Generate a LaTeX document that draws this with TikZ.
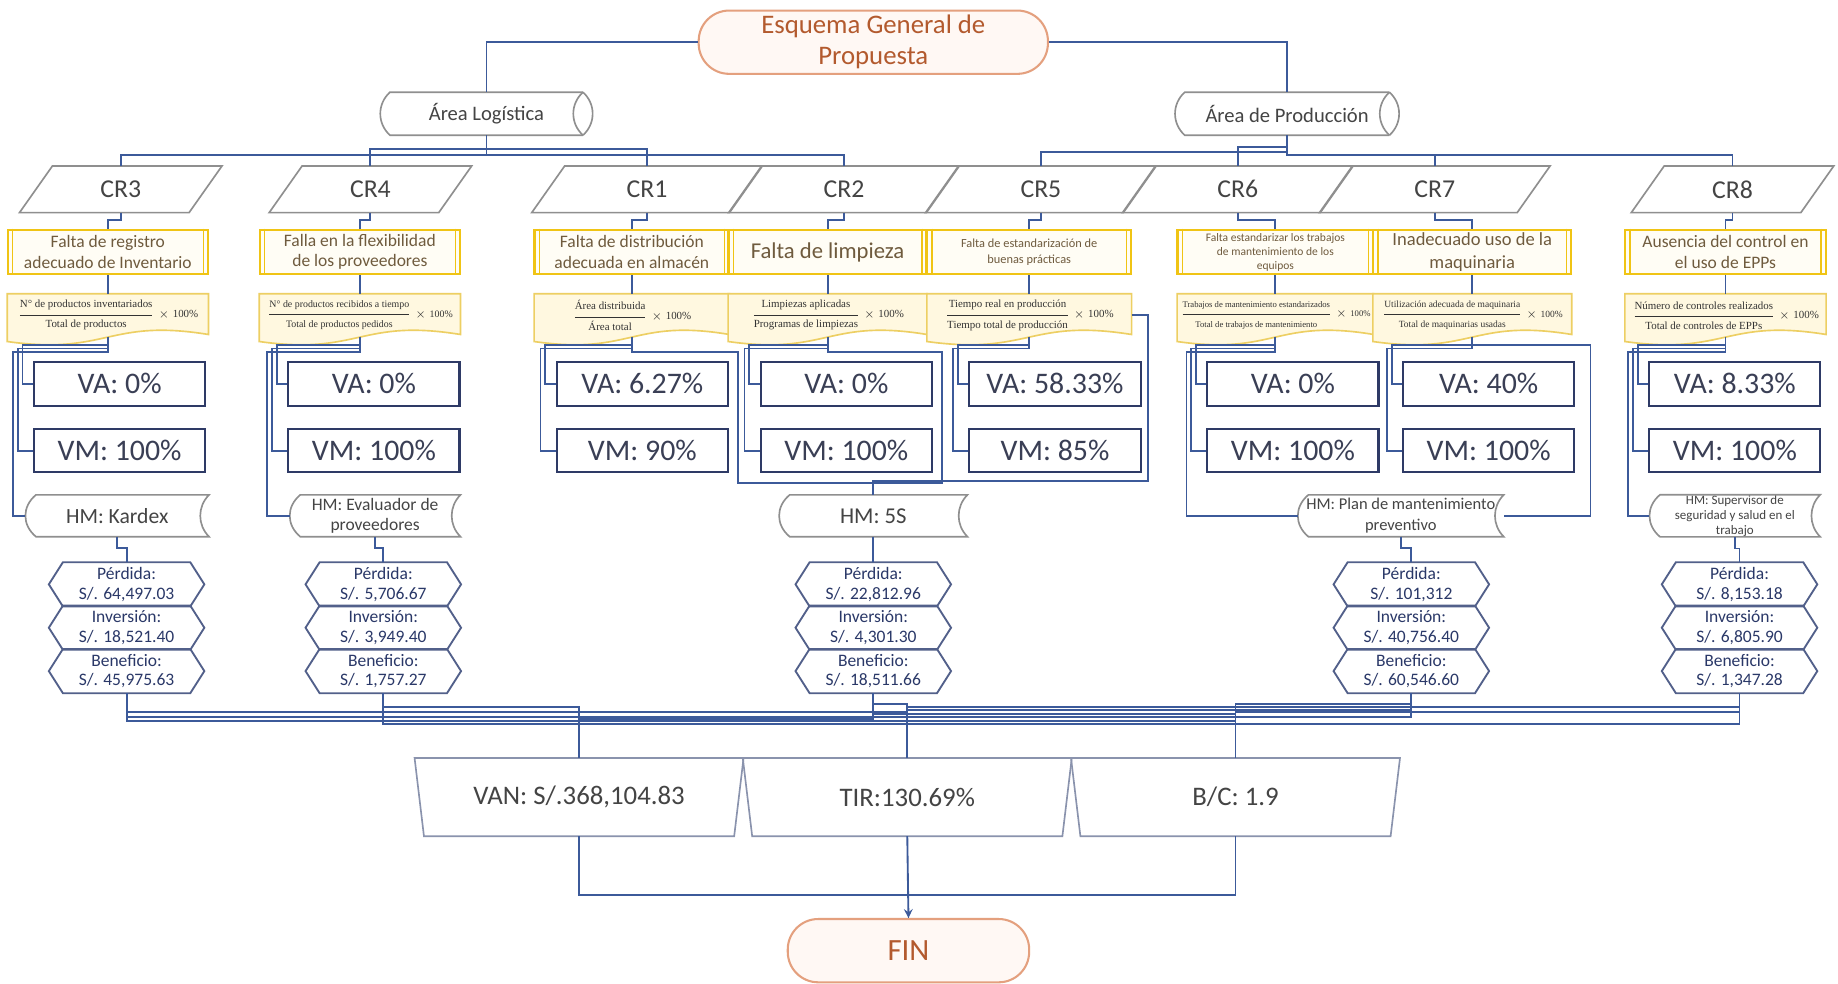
\documentclass[tikz,border=0pt]{standalone}
\usepackage{amsmath,amssymb}
\usepackage{xcolor}
\usepackage{fontspec}
\setmainfont{Carlito}
\newfontfamily\formfont{Liberation Serif}
\usepackage{tikz}
\usetikzlibrary{calc,backgrounds}

\definecolor{lineblue}{HTML}{3C5A9A}
\definecolor{navy}{HTML}{2E3A66}
\definecolor{vtext}{HTML}{3A3F55}
\definecolor{ygold}{HTML}{F0C414}
\definecolor{probfill}{HTML}{FFFDF5}
\definecolor{brownt}{HTML}{6F5B3E}
\definecolor{formb}{HTML}{EDCF63}
\definecolor{formfill}{HTML}{FFF8E0}
\definecolor{orangeb}{HTML}{E4A07E}
\definecolor{orangef}{HTML}{FFF8F4}
\definecolor{oranget}{HTML}{B35A2E}
\definecolor{grayb}{HTML}{8F8F8F}
\definecolor{grayt}{HTML}{444444}
\definecolor{hexb}{HTML}{52608A}
\definecolor{hext}{HTML}{2A3868}
\definecolor{indb}{HTML}{8A93AD}

\newcommand{\fsz}[2]{\fontsize{#1}{#2}\selectfont}
\newcommand{\hexcol}[5]{%
  \node[hexn] (per#1) at (#2,498.5) {Pérdida:\\S/. #3};
  \node[hexn] (inv#1) at (#2,535.5) {Inversión:\\S/. #4};
  \node[hexn] (ben#1) at (#2,572.5) {Beneficio:\\S/. #5};
}

\tikzset{
  conn/.style={draw=lineblue, line width=0.9pt},
  term/.style={draw=orangeb, fill=orangef, line width=1pt, rounded corners=0.52cm, text=oranget, align=center, inner sep=0pt},
  areabox/.style={minimum height=0.72cm, text=grayt, font=\fsz{10}{12}, inner sep=0pt},
  arealine/.style={draw=grayb, line width=0.8pt},
  crlbl/.style={minimum height=0.78cm, text=grayt, font=\fsz{12.5}{14}, inner sep=0pt},
  crline/.style={draw=grayb, line width=0.8pt},
  prob/.style={draw=ygold, fill=probfill, line width=1.1pt, minimum height=0.76cm, text=brownt, align=center, inner sep=0pt},
  fbox/.style={minimum height=0.72cm, inner sep=0pt, text=black!80, font=\fsz{5.3}{6.3}},
  formline/.style={draw=formb, fill=formfill, line width=0.8pt},
  vbox/.style={draw=navy, line width=1pt, minimum width=2.92cm, minimum height=0.74cm, text=vtext, font=\fsz{14.5}{16}},
  hmbox/.style={minimum height=0.7cm, text=grayt, align=center, inner sep=0pt},
  hmline/.style={draw=grayb, line width=0.8pt},
  hexn/.style={minimum width=2.64cm, minimum height=0.74cm, text=hext, align=center, font=\fsz{8.5}{9.5}, inner sep=0pt},
  hexline/.style={draw=hexb, line width=0.9pt},
  indbox/.style={minimum width=5.6cm, minimum height=1.32cm, text=grayt, font=\fsz{13}{15}, inner sep=0pt},
  indline/.style={draw=indb, line width=0.8pt}
}

\begin{document}
\begin{tikzpicture}[x=0.02cm, y=-0.02cm]
\useasboundingbox (0,0) rectangle (1568,839);
\begin{scope}[on background layer]
\fill[white] (0,0) rectangle (1568,839);
\end{scope}

\node[term, minimum width=5.96cm, minimum height=1.08cm, font=\fsz{13}{15}] (top) at (745,36) {Esquema General de\\Propuesta};
\node[areabox, minimum width=3.6cm] (log) at (415,97) {Área Logística};
\node[areabox, minimum width=3.8cm] (prod) at (1098,97) {Área de Producción};
\foreach \n in {log,prod}{
  \draw[arealine] ($(\n.north east)+(-8,0)$) -- ($(\n.north west)+(8,0)$) .. controls ($(\n.north west)+(-3,10)$) and ($(\n.south west)+(-3,-10)$) .. ($(\n.south west)+(8,0)$) -- ($(\n.south east)+(-8,0)$);
  \draw[arealine] ($(\n.north east)+(-8,0)$) .. controls ($(\n.north east)+(3,10)$) and ($(\n.south east)+(3,-10)$) .. ($(\n.south east)+(-8,0)$);
  \draw[arealine] ($(\n.north east)+(-8,0)$) .. controls ($(\n.north east)+(-19,10)$) and ($(\n.south east)+(-19,-10)$) .. ($(\n.south east)+(-8,0)$);
}

% causas raiz
\foreach \n/\x/\w in {3/103/3.44, 4/316/3.44, 1/552/3.92, 2/720/3.92, 5/888/3.92, 6/1056/3.92, 7/1224/3.92, 8/1478/3.44}
  \node[crlbl, minimum width=\w cm] (cr\n) at (\x,161.5) {CR\n};
\foreach \n in {3,4,1,2,5,6,7,8}
  \draw[crline] (cr\n.south west) -- ($(cr\n.north west)+(28,0)$) -- (cr\n.north east) -- ($(cr\n.south east)+(-28,0)$) -- cycle;

\node[prob, minimum width=3.42cm, font=\fsz{8.5}{10}] (p3) at (92,215) {Falta de registro\\adecuado de Inventario};
\node[prob, minimum width=3.42cm, font=\fsz{8.5}{10}] (p4) at (307,215) {Falla en la flexibilidad\\de los proveedores};
\node[prob, minimum width=3.32cm, font=\fsz{8.5}{10}] (p1) at (539,215) {Falta de distribución\\adecuada en almacén};
\node[prob, minimum width=3.38cm, font=\fsz{11}{13}] (p2) at (706,215) {Falta de limpieza};
\node[prob, minimum width=3.48cm, font=\fsz{6}{7.5}] (p5) at (878,215) {Falta de estandarización de\\buenas prácticas};
\node[prob, minimum width=3.34cm, font=\fsz{5.6}{6.8}] (p6) at (1088,215) {Falta estandarizar los trabajos\\de mantenimiento de los\\equipos};
\node[prob, minimum width=3.38cm, font=\fsz{9}{11}] (p7) at (1256,215) {Inadecuado uso de la\\maquinaria};
\node[prob, minimum width=3.42cm, font=\fsz{8.5}{10}] (p8) at (1472,215) {Ausencia del control en\\el uso de EPPs};
\foreach \n in {3,4,1,2,5,6,7,8}{
  \draw[ygold, line width=0.6pt] ($(p\n.north west)+(5,0)$) -- ($(p\n.south west)+(5,0)$);
  \draw[ygold, line width=0.6pt] ($(p\n.north east)+(-5,0)$) -- ($(p\n.south east)+(-5,0)$);
}

% indicadores
\node[fbox, minimum width=3.42cm] (f3) at (92,269) {\formfont$\dfrac{\mbox{N° de productos inventariados}}{\mbox{Total de productos}}\times\mbox{100\%}$};
\node[fbox, minimum width=3.42cm, font=\fsz{4.8}{5.8}] (f4) at (307,269) {\formfont$\dfrac{\mbox{N° de productos recibidos a tiempo}}{\mbox{Total de productos pedidos}}\times\mbox{100\%}$};
\node[fbox, minimum width=3.32cm] (f1) at (539,269) {\formfont$\dfrac{\mbox{Área distribuida}}{\mbox{Área total}}\times\mbox{100\%}$};
\node[fbox, minimum width=3.38cm] (f2) at (706,269) {\formfont$\dfrac{\mbox{Limpiezas aplicadas}}{\mbox{Programas de limpiezas}}\times\mbox{100\%}$};
\node[fbox, minimum width=3.48cm] (f5) at (878,269) {\formfont$\dfrac{\mbox{Tiempo real en producción}}{\mbox{Tiempo total de producción}}\times\mbox{100\%}$};
\node[fbox, minimum width=3.34cm, font=\fsz{4.2}{5}] (f6) at (1088,269) {\formfont$\dfrac{\mbox{Trabajos de mantenimiento estandarizados}}{\mbox{Total de trabajos de mantenimiento}}\times\mbox{100\%}$};
\node[fbox, minimum width=3.38cm, font=\fsz{4.6}{5.6}] (f7) at (1256,269) {\formfont$\dfrac{\mbox{Utilización adecuada de maquinaria}}{\mbox{Total de maquinarias usadas}}\times\mbox{100\%}$};
\node[fbox, minimum width=3.42cm] (f8) at (1472,269) {\formfont$\dfrac{\mbox{Número de controles realizados}}{\mbox{Total de controles de EPPs}}\times\mbox{100\%}$};
\begin{scope}[on background layer]
\foreach \n in {3,4,1,2,5,6,7,8}
  \draw[formline] (f\n.north west) -- (f\n.north east) -- ($(f\n.south east)+(0,-2)$) .. controls ($(f\n.south)+(0,-16)$) and ($(f\n.south)+(0,16)$) .. ($(f\n.south west)+(0,4)$) -- cycle;
\end{scope}

\foreach \n/\x/\a/\m in {3/102/0/100, 4/319/0/100, 1/548/6.27/90, 2/722/0/100, 5/900/58.33/85, 6/1103/0/100, 7/1270/40/100, 8/1480/8.33/100}{
  \node[vbox] (va\n) at (\x,327.5) {VA: \a\%};
  \node[vbox] (vm\n) at (\x,384.5) {VM: \m\%};
}

% herramientas
\node[hmbox, minimum width=3.12cm, font=\fsz{10.5}{12}] (hmk) at (100,440) {HM: Kardex};
\node[hmbox, minimum width=2.9cm, font=\fsz{8.5}{10}] (hme) at (320,440) {HM: Evaluador de\\proveedores};
\node[hmbox, minimum width=3.2cm, font=\fsz{11}{13}] (hms) at (745,440) {HM: 5S};
\node[hmbox, minimum width=3.5cm, font=\fsz{8}{10}] (hmp) at (1195,440) {HM: Plan de mantenimiento\\preventivo};
\node[hmbox, minimum width=2.9cm, font=\fsz{6.3}{7.3}] (hmss) at (1480,440) {HM: Supervisor de\\seguridad y salud en el\\trabajo};
\foreach \n in {hmk,hme,hms,hmp,hmss}
  \draw[hmline] ($(\n.north west)+(9,0)$) -- (\n.north east) .. controls ($(\n.north east)+(-10,10)$) and ($(\n.south east)+(-10,-10)$) .. (\n.south east) -- ($(\n.south west)+(9,0)$) .. controls ($(\n.south west)+(-3,-10)$) and ($(\n.north west)+(-3,10)$) .. ($(\n.north west)+(9,0)$) -- cycle;

\hexcol{k}{108}{64,497.03}{18,521.40}{45,975.63}
\hexcol{e}{327}{5,706.67}{3,949.40}{1,757.27}
\hexcol{s}{745}{22,812.96}{4,301.30}{18,511.66}
\hexcol{p}{1204}{101,312}{40,756.40}{60,546.60}
\hexcol{ss}{1484}{8,153.18}{6,805.90}{1,347.28}
\foreach \n in {perk,invk,benk,pere,inve,bene,pers,invs,bens,perp,invp,benp,perss,invss,benss}
  \draw[hexline] (\n.west) -- ($(\n.north west)+(12,0)$) -- ($(\n.north east)+(-12,0)$) -- (\n.east) -- ($(\n.south east)+(-12,0)$) -- ($(\n.south west)+(12,0)$) -- cycle;

\node[indbox] (van) at (494,680) {VAN: S/.368,104.83};
\node[indbox] (tir) at (774,680) {TIR:130.69\%};
\node[indbox] (bc) at (1054,680) {B/C: 1.9};
\foreach \n in {van,tir,bc}
  \draw[indline] (\n.north west) -- (\n.north east) -- ($(\n.south east)+(-8,0)$) -- ($(\n.south west)+(8,0)$) -- cycle;
\node[term, minimum width=4.12cm, minimum height=1.08cm, font=\fsz{15}{17}] (fin) at (775,811) {FIN};

% conectores
\draw[conn] (top.west) -| (log.north);
\draw[conn] (top.east) -| (prod.north);
\draw[conn] (log.south) -- ++(0,17) -| (cr3.north);
\draw[conn] (log.south) -- ++(0,17) -| (cr2.north);
\draw[conn] (log.south) -- ++(0,12) -| (cr4.north);
\draw[conn] (log.south) -- ++(0,12) -| (cr1.north);
\draw[conn] (prod.south) -- ++(0,14) -| (cr5.north);
\draw[conn] (prod.south) -- ++(0,10) -| (cr6.north);
\draw[conn] (prod.south) -- ++(0,17) -| (cr7.north);
\draw[conn] (prod.south) -- ++(0,17) -| (cr8.north);

\foreach \n in {3,4,1,2,5,6,7,8}{
  \draw[conn] (cr\n.south) -- ++(0,6) -| (p\n.north);
  \draw[conn] (p\n.south) -- ++(0,9) -| (f\n.north);
  \draw[conn] (f\n.south) -- ++(0,7) -| ($(va\n.west)+(-9,0)$) -- (va\n.west);
  \draw[conn] (f\n.south) -- ++(0,10) -| ($(vm\n.west)+(-13,0)$) -- (vm\n.west);
}
\draw[conn] (f3.south) -- ++(0,13) -| ($(va3.west |- hmk.west)+(-17,0)$) -- (hmk.west);
\draw[conn] (f4.south) -- ++(0,13) -| ($(va4.west |- hme.west)+(-17,0)$) -- (hme.west);
\draw[conn] (f8.south) -- ++(0,13) -| ($(va8.west |- hmss.west)+(-17,0)$) -- (hmss.west);
\draw[conn] (f6.south) -- ++(0,13) -| ($(va6.west |- hmp.west)+(-17,0)$) -- (hmp.west);
\draw[conn] (f7.south) -- ++(0,7) -| ($(va7.east |- hmp.east)+(13,0)$) -- (hmp.east);
\draw[conn] (f1.south) -- ++(0,13) -| ($(vm1.south east)+(8,8)$) -| (hms.north);
\draw[conn] (f2.south) -- ++(0,13) -| ($(vm2.south east)+(8,8)$) -| (hms.north);
\draw[conn] (f5.east) -- ++(14,0) |- ($(hms.north)+(0,-12)$) -- (hms.north);

\foreach \n in {k,e,s,p,ss}
  \draw[conn] (hm\n.south) -- ++(0,10) -| (per\n.north);

\foreach \b/\dv/\dt/\dc in {k/16/20/24, e/12/16/26, s/22/9/18, p/20/14/9, ss/26/12/16}{
  \draw[conn] (ben\b.south) -- ++(0,\dv) -| (van.north);
  \draw[conn] (ben\b.south) -- ++(0,\dt) -| (tir.north);
  \draw[conn] (ben\b.south) -- ++(0,\dc) -| (bc.north);
}
\draw[conn] (van.south) -- ++(0,50) -| (fin.north);
\draw[conn] (bc.south) -- ++(0,50) -| (fin.north);
\draw[conn,->,>=stealth] (tir.south) -- (fin.north);
\end{tikzpicture}
\end{document}
